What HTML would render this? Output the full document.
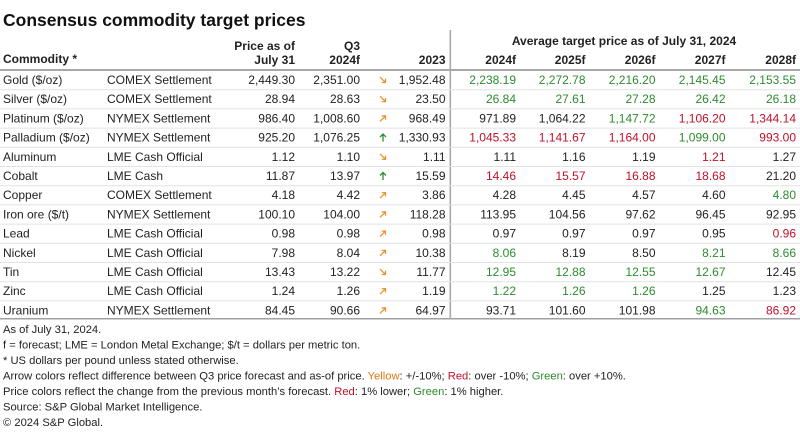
<!DOCTYPE html>
<html><head><meta charset="utf-8"><style>
html,body{margin:0;padding:0;background:#fff;width:800px;height:438px;overflow:hidden}
svg{display:block;font-family:"Liberation Sans",Arial,sans-serif}
.d{font-size:12px;fill:#222}
.h{font-size:12px;font-weight:bold;fill:#222}
.f{font-size:11.2px;fill:#222}
.g{fill:#2e8b2e}.r{fill:#c0102a}.y{fill:#e07a10}
</style></head><body>
<svg width="800" height="438" viewBox="0 0 800 438">
<text x="3" y="26" font-size="17.5" font-weight="bold" fill="#111">Consensus commodity target prices</text>
<g class="h">
<text x="3" y="63">Commodity *</text>
<text x="295" y="50" text-anchor="end">Price as of</text>
<text x="295" y="64" text-anchor="end">July 31</text>
<text x="360" y="50" text-anchor="end">Q3</text>
<text x="360" y="64" text-anchor="end">2024f</text>
<text x="445.5" y="64" text-anchor="end">2023</text>
<text x="624" y="45" text-anchor="middle">Average target price as of July 31, 2024</text>
<text x="516" y="64" text-anchor="end">2024f</text>
<text x="585.5" y="64" text-anchor="end">2025f</text>
<text x="655.5" y="64" text-anchor="end">2026f</text>
<text x="725.5" y="64" text-anchor="end">2027f</text>
<text x="796" y="64" text-anchor="end">2028f</text>
</g>
<rect x="0" y="69" width="800" height="2" fill="#a8a8a8"/>
<rect x="0" y="318" width="800" height="1.5" fill="#a0a0a0"/>
<rect x="449.5" y="30" width="1.6" height="289" fill="#a8a8a8"/>
<g stroke="#e2e2e2" stroke-width="1">
<line x1="0" y1="89.7" x2="800" y2="89.7"/><line x1="0" y1="108.9" x2="800" y2="108.9"/>
<line x1="0" y1="128.1" x2="800" y2="128.1"/><line x1="0" y1="147.3" x2="800" y2="147.3"/>
<line x1="0" y1="166.5" x2="800" y2="166.5"/><line x1="0" y1="185.7" x2="800" y2="185.7"/>
<line x1="0" y1="204.9" x2="800" y2="204.9"/><line x1="0" y1="224.1" x2="800" y2="224.1"/>
<line x1="0" y1="243.3" x2="800" y2="243.3"/><line x1="0" y1="262.5" x2="800" y2="262.5"/>
<line x1="0" y1="281.7" x2="800" y2="281.7"/><line x1="0" y1="300.9" x2="800" y2="300.9"/>
</g>
<defs>
<g id="dn"><path d="M-3,-3 L2.5,2.5 M2.5,-1.2 L2.5,2.5 L-1.2,2.5" stroke="#f08a24" stroke-width="1.2" fill="none"/></g>
<g id="up"><path d="M-3,3 L2.5,-2.5 M2.5,1.2 L2.5,-2.5 L-1.2,-2.5" stroke="#f08a24" stroke-width="1.2" fill="none"/></g>
<g id="gu"><path d="M0,4 L0,-3.5 M-3,-0.5 L0,-3.5 L3,-0.5" stroke="#2e8b2e" stroke-width="1.3" fill="none"/></g>
</defs>
<g class="d">
<g transform="translate(0,84)">
<text x="3">Gold ($/oz)</text><text x="107">COMEX Settlement</text><text x="295" text-anchor="end">2,449.30</text><text x="360" text-anchor="end">2,351.00</text><use href="#dn" x="383" y="-4"/><text x="445.5" text-anchor="end">1,952.48</text>
<text x="516" text-anchor="end" class="g">2,238.19</text><text x="585.5" text-anchor="end" class="g">2,272.78</text><text x="655.5" text-anchor="end" class="g">2,216.20</text><text x="725.5" text-anchor="end" class="g">2,145.45</text><text x="796" text-anchor="end" class="g">2,153.55</text></g>
<g transform="translate(0,103.2)">
<text x="3">Silver ($/oz)</text><text x="107">COMEX Settlement</text><text x="295" text-anchor="end">28.94</text><text x="360" text-anchor="end">28.63</text><use href="#dn" x="383" y="-4"/><text x="445.5" text-anchor="end">23.50</text>
<text x="516" text-anchor="end" class="g">26.84</text><text x="585.5" text-anchor="end" class="g">27.61</text><text x="655.5" text-anchor="end" class="g">27.28</text><text x="725.5" text-anchor="end" class="g">26.42</text><text x="796" text-anchor="end" class="g">26.18</text></g>
<g transform="translate(0,122.4)">
<text x="3">Platinum ($/oz)</text><text x="107">NYMEX Settlement</text><text x="295" text-anchor="end">986.40</text><text x="360" text-anchor="end">1,008.60</text><use href="#up" x="383" y="-4"/><text x="445.5" text-anchor="end">968.49</text>
<text x="516" text-anchor="end">971.89</text><text x="585.5" text-anchor="end">1,064.22</text><text x="655.5" text-anchor="end" class="g">1,147.72</text><text x="725.5" text-anchor="end" class="r">1,106.20</text><text x="796" text-anchor="end" class="r">1,344.14</text></g>
<g transform="translate(0,141.6)">
<text x="3">Palladium ($/oz)</text><text x="107">NYMEX Settlement</text><text x="295" text-anchor="end">925.20</text><text x="360" text-anchor="end">1,076.25</text><use href="#gu" x="383" y="-4"/><text x="445.5" text-anchor="end">1,330.93</text>
<text x="516" text-anchor="end" class="r">1,045.33</text><text x="585.5" text-anchor="end" class="r">1,141.67</text><text x="655.5" text-anchor="end" class="r">1,164.00</text><text x="725.5" text-anchor="end" class="g">1,099.00</text><text x="796" text-anchor="end" class="r">993.00</text></g>
<g transform="translate(0,160.8)">
<text x="3">Aluminum</text><text x="107">LME Cash Official</text><text x="295" text-anchor="end">1.12</text><text x="360" text-anchor="end">1.10</text><use href="#dn" x="383" y="-4"/><text x="445.5" text-anchor="end">1.11</text>
<text x="516" text-anchor="end">1.11</text><text x="585.5" text-anchor="end">1.16</text><text x="655.5" text-anchor="end">1.19</text><text x="725.5" text-anchor="end" class="r">1.21</text><text x="796" text-anchor="end">1.27</text></g>
<g transform="translate(0,180)">
<text x="3">Cobalt</text><text x="107">LME Cash</text><text x="295" text-anchor="end">11.87</text><text x="360" text-anchor="end">13.97</text><use href="#gu" x="383" y="-4"/><text x="445.5" text-anchor="end">15.59</text>
<text x="516" text-anchor="end" class="r">14.46</text><text x="585.5" text-anchor="end" class="r">15.57</text><text x="655.5" text-anchor="end" class="r">16.88</text><text x="725.5" text-anchor="end" class="r">18.68</text><text x="796" text-anchor="end">21.20</text></g>
<g transform="translate(0,199.2)">
<text x="3">Copper</text><text x="107">COMEX Settlement</text><text x="295" text-anchor="end">4.18</text><text x="360" text-anchor="end">4.42</text><use href="#up" x="383" y="-4"/><text x="445.5" text-anchor="end">3.86</text>
<text x="516" text-anchor="end">4.28</text><text x="585.5" text-anchor="end">4.45</text><text x="655.5" text-anchor="end">4.57</text><text x="725.5" text-anchor="end">4.60</text><text x="796" text-anchor="end" class="g">4.80</text></g>
<g transform="translate(0,218.4)">
<text x="3">Iron ore ($/t)</text><text x="107">NYMEX Settlement</text><text x="295" text-anchor="end">100.10</text><text x="360" text-anchor="end">104.00</text><use href="#up" x="383" y="-4"/><text x="445.5" text-anchor="end">118.28</text>
<text x="516" text-anchor="end">113.95</text><text x="585.5" text-anchor="end">104.56</text><text x="655.5" text-anchor="end">97.62</text><text x="725.5" text-anchor="end">96.45</text><text x="796" text-anchor="end">92.95</text></g>
<g transform="translate(0,237.6)">
<text x="3">Lead</text><text x="107">LME Cash Official</text><text x="295" text-anchor="end">0.98</text><text x="360" text-anchor="end">0.98</text><use href="#up" x="383" y="-4"/><text x="445.5" text-anchor="end">0.98</text>
<text x="516" text-anchor="end">0.97</text><text x="585.5" text-anchor="end">0.97</text><text x="655.5" text-anchor="end">0.97</text><text x="725.5" text-anchor="end">0.95</text><text x="796" text-anchor="end" class="r">0.96</text></g>
<g transform="translate(0,256.8)">
<text x="3">Nickel</text><text x="107">LME Cash Official</text><text x="295" text-anchor="end">7.98</text><text x="360" text-anchor="end">8.04</text><use href="#up" x="383" y="-4"/><text x="445.5" text-anchor="end">10.38</text>
<text x="516" text-anchor="end" class="g">8.06</text><text x="585.5" text-anchor="end">8.19</text><text x="655.5" text-anchor="end">8.50</text><text x="725.5" text-anchor="end" class="g">8.21</text><text x="796" text-anchor="end" class="g">8.66</text></g>
<g transform="translate(0,276)">
<text x="3">Tin</text><text x="107">LME Cash Official</text><text x="295" text-anchor="end">13.43</text><text x="360" text-anchor="end">13.22</text><use href="#dn" x="383" y="-4"/><text x="445.5" text-anchor="end">11.77</text>
<text x="516" text-anchor="end" class="g">12.95</text><text x="585.5" text-anchor="end" class="g">12.88</text><text x="655.5" text-anchor="end" class="g">12.55</text><text x="725.5" text-anchor="end" class="g">12.67</text><text x="796" text-anchor="end">12.45</text></g>
<g transform="translate(0,295.2)">
<text x="3">Zinc</text><text x="107">LME Cash Official</text><text x="295" text-anchor="end">1.24</text><text x="360" text-anchor="end">1.26</text><use href="#up" x="383" y="-4"/><text x="445.5" text-anchor="end">1.19</text>
<text x="516" text-anchor="end" class="g">1.22</text><text x="585.5" text-anchor="end" class="g">1.26</text><text x="655.5" text-anchor="end" class="g">1.26</text><text x="725.5" text-anchor="end">1.25</text><text x="796" text-anchor="end">1.23</text></g>
<g transform="translate(0,314.4)">
<text x="3">Uranium</text><text x="107">NYMEX Settlement</text><text x="295" text-anchor="end">84.45</text><text x="360" text-anchor="end">90.66</text><use href="#up" x="383" y="-4"/><text x="445.5" text-anchor="end">64.97</text>
<text x="516" text-anchor="end">93.71</text><text x="585.5" text-anchor="end">101.60</text><text x="655.5" text-anchor="end">101.98</text><text x="725.5" text-anchor="end" class="g">94.63</text><text x="796" text-anchor="end" class="r">86.92</text></g>
</g>
<g class="f">
<text x="3" y="333">As of July 31, 2024.</text>
<text x="3" y="348.5">f = forecast; LME = London Metal Exchange; $/t = dollars per metric ton.</text>
<text x="3" y="364">* US dollars per pound unless stated otherwise.</text>
<text x="3" y="379.5">Arrow colors reflect difference between Q3 price forecast and as-of price. <tspan class="y">Yellow</tspan>: +/-10%; <tspan class="r">Red</tspan>: over -10%; <tspan class="g">Green</tspan>: over +10%.</text>
<text x="3" y="395">Price colors reflect the change from the previous month’s forecast. <tspan class="r">Red</tspan>: 1% lower; <tspan class="g">Green</tspan>: 1% higher.</text>
<text x="3" y="410.5">Source: S&amp;P Global Market Intelligence.</text>
<text x="3" y="426">© 2024 S&amp;P Global.</text>
</g>
</svg>
</body></html>
